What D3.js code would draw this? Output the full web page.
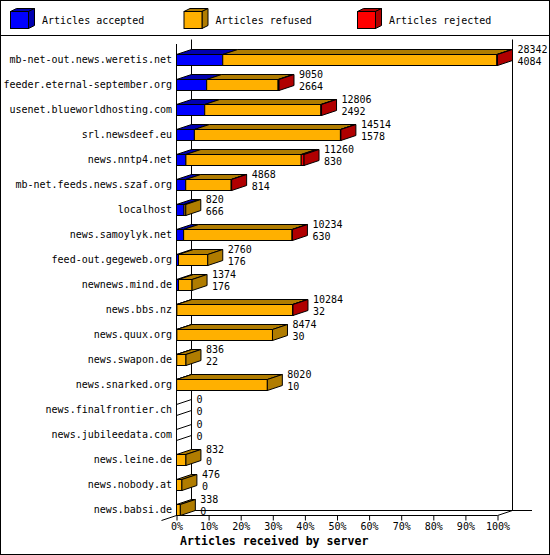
<!DOCTYPE html>
<html>
<head>
<meta charset="utf-8">
<script src="https://cdn.jsdelivr.net/npm/d3@7"></script>
<style>
  body { margin: 0; background: #fff; }
  text { font-family: "DejaVu Sans Mono", "Liberation Mono", monospace; font-size: 10px; fill: #000; }
</style>
</head>
<body>
<svg id="chart" width="550" height="555"></svg>
<script>
// servers, top to bottom
const hosts = [
  "mb-net-out.news.weretis.net", "feeder.eternal-september.org", "usenet.blueworldhosting.com",
  "srl.newsdeef.eu", "news.nntp4.net", "mb-net.feeds.news.szaf.org", "localhost",
  "news.samoylyk.net", "feed-out.gegeweb.org", "newnews.mind.de", "news.bbs.nz",
  "news.quux.org", "news.swapon.de", "news.snarked.org", "news.finalfrontier.ch",
  "news.jubileedata.com", "news.leine.de", "news.nobody.at", "news.babsi.de"
];
// total articles offered (first label line)
const offered = [28342, 9050, 12806, 14514, 11260, 4868, 820, 10234, 2760, 1374, 10284, 8474, 836, 8020, 0, 0, 832, 476, 338];
// articles accepted (second label line)
const accepted = [4084, 2664, 2492, 1578, 830, 814, 666, 630, 176, 176, 32, 30, 22, 10, 0, 0, 0, 0, 0];
// articles rejected (estimated from the thin red segments)
const rejected = [60, 80, 60, 40, 250, 40, 0, 30, 0, 0, 20, 0, 0, 0, 0, 0, 0, 0, 0];
const pctTicks = [0, 10, 20, 30, 40, 50, 60, 70, 80, 90, 100];
const seriesNames = ["Articles accepted", "Articles refused", "Articles rejected"];
const frontColors = ["#0000ff", "#ffb000", "#ff0000"];
const shadeColors = ["#0000b0", "#b07c00", "#b00000"];

const svg = d3.select("#chart");
const dx = 15, dy = 5; // 3d depth

const x = d3.scaleLinear().domain([0, d3.max(offered)]).range([176.5, 497.5]);
const xPct = d3.scaleLinear().domain([0, 100]).range([176.5, 497.5]);
const y = d3.scaleBand().domain(hosts).range([44, 519]);

// frame
svg.append("rect").attr("x", 0.5).attr("y", 0.5).attr("width", 549).attr("height", 554)
  .attr("fill", "#fff").attr("stroke", "#000");
svg.append("line").attr("x1", 0).attr("x2", 550).attr("y1", 35.5).attr("y2", 35.5).attr("stroke", "#000");

// legend
const legend = svg.append("g");
seriesNames.forEach((name, i) => {
  const lx = 10.5 + i * 173.5, ly = 11.5, w = 18, h = 17, d = 6, e = 3;
  const g = legend.append("g").attr("stroke", "#000").attr("stroke-width", 1);
  g.append("polygon").attr("fill", shadeColors[i])
    .attr("points", [[lx, ly], [lx + d, ly - e], [lx + w + d, ly - e], [lx + w, ly]].join(" "));
  g.append("polygon").attr("fill", shadeColors[i])
    .attr("points", [[lx + w, ly], [lx + w + d, ly - e], [lx + w + d, ly + h - e], [lx + w, ly + h]].join(" "));
  g.append("rect").attr("x", lx).attr("y", ly).attr("width", w).attr("height", h).attr("fill", frontColors[i]);
  legend.append("text").attr("x", lx + 31.5).attr("y", 20).attr("dy", "0.35em").text(name);
});

// back walls and floor
const axes = svg.append("g").attr("stroke", "#000").attr("fill", "none");
const x0 = x.range()[0], x1 = x.range()[1];
const yFloor = 515.5;
axes.append("line").attr("x1", x0 + dx).attr("x2", x0 + dx).attr("y1", 39.5).attr("y2", yFloor - dy);
axes.append("line").attr("x1", x1 + dx).attr("x2", x1 + dx).attr("y1", 39.5).attr("y2", yFloor - dy);
axes.append("line").attr("x1", x0 + dx).attr("x2", 532).attr("y1", yFloor - dy).attr("y2", yFloor - dy);
axes.append("line").attr("x1", x0).attr("x2", x0).attr("y1", 44).attr("y2", yFloor);
axes.append("line").attr("x1", x0).attr("x2", x1).attr("y1", yFloor).attr("y2", yFloor);
axes.append("line").attr("x1", x0 - dx).attr("y1", yFloor + dy).attr("x2", x0 + dx).attr("y2", yFloor - dy);
axes.append("line").attr("x1", x1).attr("y1", yFloor).attr("x2", x1 + dx).attr("y2", yFloor - dy);

// bars
const bars = svg.append("g").attr("stroke", "#000").attr("stroke-width", 1);
hosts.forEach((host, i) => {
  const segs = [accepted[i], offered[i] - accepted[i] - rejected[i], rejected[i]];
  const top = y(host) + 10.5, bot = top + 11;
  let cum = 0, last = -1;
  segs.forEach((v, k) => {
    if (v <= 0) return;
    const a = x(cum), b = x(cum + v);
    cum += v;
    last = k;
    bars.append("polygon").attr("fill", shadeColors[k])
      .attr("points", [[a, top], [a + dx, top - dy], [b + dx, top - dy], [b, top]].join(" "));
    bars.append("rect").attr("x", a).attr("y", top).attr("width", b - a).attr("height", bot - top)
      .attr("fill", frontColors[k]);
  });
  const end = x(offered[i]);
  bars.append("polygon").attr("fill", last < 0 ? "none" : shadeColors[last])
    .attr("points", [[end, top], [end + dx, top - dy], [end + dx, bot - dy], [end, bot]].join(" "));

  // value labels
  svg.append("text").attr("x", end + dx + 5).attr("y", top - 5).attr("dy", "0.35em").text(offered[i]);
  svg.append("text").attr("x", end + dx + 5).attr("y", top + 7).attr("dy", "0.35em").text(accepted[i]);

  // server names
  svg.append("text").attr("x", 172).attr("y", top + 5).attr("dy", "0.35em")
    .attr("text-anchor", "end").text(host);
});

// x axis
const xAxis = svg.append("g").attr("transform", `translate(0,${yFloor})`)
  .call(d3.axisBottom(xPct).tickValues(pctTicks).tickFormat(d => d + "%").tickSize(5).tickPadding(2));
xAxis.select(".domain").remove();
xAxis.selectAll("text").attr("font-family", null).attr("font-size", null);

svg.append("text").attr("x", 180).attr("y", 541).attr("dy", "0.35em")
  .style("font-weight", "bold").style("font-size", "11.6px").text("Articles received by server");
</script>
</body>
</html>
